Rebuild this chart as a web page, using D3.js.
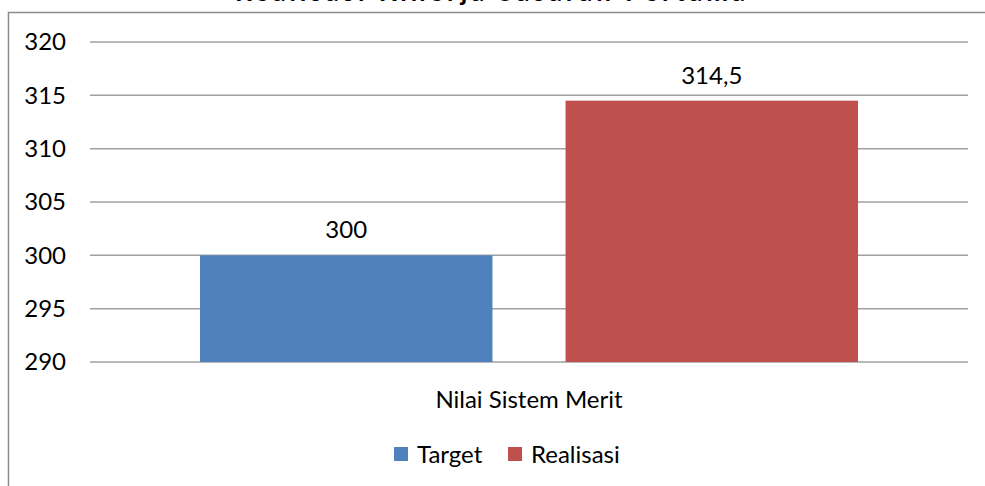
<!DOCTYPE html>
<html><head><meta charset="utf-8">
<script src="https://cdn.jsdelivr.net/npm/d3@7"></script>
<style>body{margin:0;background:#fff}svg{display:block}</style>
</head><body>
<svg id="c" width="985" height="486"></svg>
<script>
const categories = ["Nilai Sistem Merit"];
const seriesNames = ["Target", "Realisasi"];
const seriesValues = [300, 314.5];
const seriesLabels = ["300", "314,5"];
const seriesColors = ["#4F81BD", "#C0504D"];
const yTicks = [290, 295, 300, 305, 310, 315, 320];
const title = "Realisasi Kinerja Sasaran Pertama";

(function () {
const svg = d3.select("#c");
const font = "Lato, 'Open Sans', sans-serif";
const fs = 24;
const W = 985, H = 486;
const pLeft = 90, pRight = 968, pTop = 42, pBottom = 362;

// frame
svg.append("rect").attr("x", 8.5).attr("y", 12.5).attr("width", W).attr("height", H)
  .attr("fill", "none").attr("stroke", "#8c8c8c").attr("stroke-width", 1.5);

// title (cut off at top, as in the reference)
svg.append("text").attr("x", 490).attr("y", 1).attr("text-anchor", "middle")
  .attr("font-family", font).attr("font-weight", "bold").attr("font-size", 26)
  .attr("textLength", 510).attr("lengthAdjust", "spacing")
  .attr("fill", "#000").text(title);

const y = d3.scaleLinear().domain([290, 320]).range([pBottom, pTop]);
const x0 = d3.scaleBand().domain(categories).range([pLeft, pRight]).paddingInner(0).paddingOuter(0.1672);
const x1 = d3.scaleBand().domain(seriesNames).range([0, x0.bandwidth()]).paddingInner(0.2);

// gridlines
svg.append("g").selectAll("line").data(yTicks).join("line")
  .attr("x1", pLeft).attr("x2", pRight).attr("y1", d => y(d)).attr("y2", d => y(d))
  .attr("stroke", "#a0a0a0").attr("stroke-width", 1.5);

// y labels
const yAxis = d3.axisLeft(y).tickValues(yTicks).tickSize(0).tickPadding(0).tickFormat(d3.format("d"));
const ga = svg.append("g").attr("transform", `translate(66,0)`).call(yAxis);
ga.select(".domain").remove();
ga.selectAll("text").attr("font-family", font).attr("font-size", fs).attr("fill", "#000");

// bars
const data = seriesNames.map((s, i) => ({s, v: seriesValues[i], lab: seriesLabels[i], c: seriesColors[i]}));
const g = svg.append("g").attr("transform", `translate(${x0(categories[0])},0)`);
g.selectAll("rect").data(data).join("rect")
  .attr("x", d => x1(d.s)).attr("width", x1.bandwidth())
  .attr("y", d => y(d.v)).attr("height", d => y(290) - y(d.v))
  .attr("fill", d => d.c);
g.selectAll("text").data(data).join("text")
  .attr("x", d => x1(d.s) + x1.bandwidth() / 2).attr("y", d => y(d.v) - 17)
  .attr("text-anchor", "middle").attr("font-family", font).attr("font-size", fs).attr("fill", "#000")
  .text(d => d.lab);

// category label
svg.append("text").attr("x", x0(categories[0]) + x0.bandwidth() / 2).attr("y", 408)
  .attr("text-anchor", "middle").attr("font-family", font).attr("font-size", fs).attr("fill", "#000")
  .text(categories[0]);

// legend
const legendX = [394, 508];
const lg = svg.append("g");
data.forEach((d, i) => {
  lg.append("rect").attr("x", legendX[i]).attr("y", 447).attr("width", 14).attr("height", 14).attr("fill", d.c);
  lg.append("text").attr("x", legendX[i] + 23).attr("y", 463).attr("font-family", font)
    .attr("font-size", fs).attr("fill", "#000").text(d.s);
});
})();
</script>
</body></html>
